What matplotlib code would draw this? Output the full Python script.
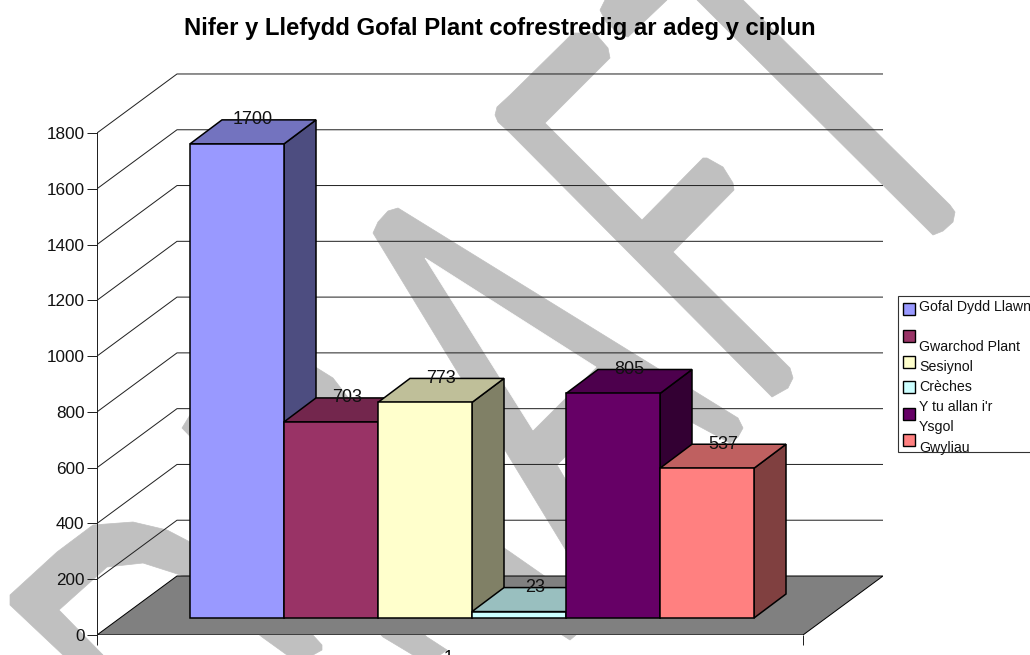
from matplotlib import pyplot as plt
from matplotlib.patches import Polygon, Rectangle

plt.rcParams['font.family'] = ['Liberation Sans', 'DejaVu Sans']

W, H = 1030, 655

# data
series_names = ["Gofal Dydd Llawn", "Gwarchod Plant", "Sesiynol", "Crèches", "Y tu allan i'r Ysgol", "Gwyliau"]
series_values = [1700, 703, 773, 23, 805, 537]
bar_colors = ['#9999FF', '#993366', '#FFFFCC', '#CCFFFF', '#660066', '#FF8080']
y_ticks = [0, 200, 400, 600, 800, 1000, 1200, 1400, 1600, 1800]
category = "1"
title = "Nifer y Llefydd Gofal Plant cofrestredig ar adeg y ciplun"

# legend rows (wrapped the way the original wraps them)
legend_rows = ["Gofal Dydd Llawn", "Gwarchod Plant", "Sesiynol", "Crèches", "Y tu allan i'r", "Ysgol", "Gwyliau"]
legend_text_y = [307, 347, 367, 387, 407, 427, 448]
legend_swatch_y = [309, 336, 362, 387, 414, 440]

# fake 3d set up, in data units of the main axes
PX_X = 94.0  # pixels for one bar width
PX_Y = 0.2789  # pixels for one value unit
WALL_DX = 80 / PX_X
WALL_DY = 59 / PX_Y
BAR_DX = 32 / PX_X
BAR_DY = 24 / PX_Y
BAR_START = 93 / PX_X
BAR_BASE = 17 / PX_Y
FLOOR_W = 706 / PX_X

# background watermark, outlines in picture pixels
watermark = [
    # D
    [(63, 655), (10, 605), (10, 595), (57, 552), (93, 525), (133, 522), (167, 530), (190, 542), (240, 575),
     (290, 610), (322, 645), (322, 650), (313, 655), (287, 655), (262, 637), (190, 578), (143, 563), (107, 567),
     (59, 610), (103, 655)],
    # R
    [(182, 428), (190, 415), (250, 365), (290, 355), (317, 368), (333, 378), (350, 400), (360, 430), (330, 420),
     (290, 400), (260, 410), (225, 440), (427, 637), (447, 650), (440, 655), (413, 655), (383, 637)],
    [(470, 525), (510, 552), (543, 575), (600, 615), (570, 640), (445, 560)],
    # A
    [(373, 233), (378, 222), (388, 211), (398, 208), (738, 418), (743, 428), (738, 437), (730, 443), (632, 390),
     (557, 465), (567, 482), (620, 570), (590, 590)],
    # F
    [(573, 33), (595, 33), (608, 48), (610, 58), (545, 123), (642, 220), (703, 158), (707, 158), (723, 167),
     (733, 183), (734, 190), (673, 252), (790, 368), (793, 378), (788, 388), (772, 397), (510, 133), (498, 122),
     (495, 115), (497, 107), (510, 95)],
    # second F
    [(697, 0), (743, 0), (950, 205), (955, 212), (953, 222), (943, 231), (933, 235)],
    [(605, 0), (667, 0), (628, 37), (618, 33), (606, 22), (600, 10)],
]
a_hole = [(425, 258), (596, 367), (533, 430)]


def shade(color, f):
    r, g, b = plt.matplotlib.colors.to_rgb(color)
    return (r * f, g * f, b * f)


fig = plt.figure(figsize=(W / 100, H / 100), dpi=100, facecolor='white')

bg = fig.add_axes([0, 0, 1, 1], zorder=-1)
bg.set_xlim(0, W)
bg.set_ylim(H, 0)
bg.axis('off')
for pts in watermark:
    bg.add_patch(Polygon(pts, closed=True, facecolor='#C0C0C0', edgecolor='#C0C0C0', lw=0.5))
bg.add_patch(Polygon(a_hole, closed=True, facecolor='white', edgecolor='white', lw=0.5))

# main axes, left edge is the front wall edge, 0 sits on the front of the floor
ax = fig.add_axes([97 / W, 1 - 635 / H, 786 / W, 562 / H])
ax.patch.set_visible(False)
ax.set_xlim(0, 786 / PX_X)
ax.set_ylim(0, 562 / PX_Y)
for s in ['top', 'right', 'bottom']:
    ax.spines[s].set_visible(False)
ax.spines['left'].set_bounds(0, y_ticks[-1])
ax.spines['left'].set_linewidth(0.72)
ax.spines['left'].set_color('#222222')

ax.set_yticks(y_ticks)
ax.tick_params(axis='y', length=7, width=0.72, color='#222222', labelsize=12.3, labelcolor='#111111', pad=2)
ax.set_xticks([0, FLOOR_W])
ax.set_xticklabels(['', ''])
ax.tick_params(axis='x', length=7.5, width=0.72, color='#222222')
ax.set_xticks([FLOOR_W / 2 - 2 / PX_X], minor=True)
ax.set_xticklabels([category], minor=True)
ax.tick_params(axis='x', which='minor', length=0, labelsize=12.3, pad=11)

# walls
for v in y_ticks[1:]:
    ax.plot([0, WALL_DX, FLOOR_W + WALL_DX], [v, v + WALL_DY, v + WALL_DY], color='#222222', lw=0.72, zorder=1)

# floor
ax.add_patch(Polygon([(0, 0), (FLOOR_W, 0), (FLOOR_W + WALL_DX, WALL_DY), (WALL_DX, WALL_DY)], closed=True,
                     facecolor='#808080', edgecolor='black', lw=0.72, zorder=2))

# bars, left to right so the next one hides the side of the last
for i, v in enumerate(series_values):
    x0 = BAR_START + i
    x1 = x0 + 1
    y0 = BAR_BASE
    y1 = y0 + v
    c = bar_colors[i]
    z = 3 + i
    ax.add_patch(Polygon([(x1, y0), (x1 + BAR_DX, y0 + BAR_DY), (x1 + BAR_DX, y1 + BAR_DY), (x1, y1)], closed=True,
                         facecolor=shade(c, 0.5), edgecolor='black', lw=1.1, zorder=z))
    ax.add_patch(Polygon([(x0, y1), (x1, y1), (x1 + BAR_DX, y1 + BAR_DY), (x0 + BAR_DX, y1 + BAR_DY)], closed=True,
                         facecolor=shade(c, 0.75), edgecolor='black', lw=1.1, zorder=z))
    ax.add_patch(Rectangle((x0, y0), 1, v, facecolor=c, edgecolor='black', lw=1.1, zorder=z))

for i, v in enumerate(series_values):
    ax.text(BAR_START + i + 0.5 + BAR_DX / 2, BAR_BASE + v + BAR_DY, str(v), ha='center', va='center',
            fontsize=13, color='#111111', zorder=20)

fig.text(500 / W, 1 - 29 / H, title, ha='center', va='center', fontsize=17.2, fontweight='bold')

# legend, done by hand since the last row is cut by the box
box = Rectangle((898, 296), 140, 156, facecolor='white', edgecolor='#333333', lw=0.8, zorder=5)
bg.add_patch(box)
for c, y in zip(bar_colors, legend_swatch_y):
    bg.add_patch(Rectangle((903, y - 6), 12, 12, facecolor=c, edgecolor='black', lw=1.0, zorder=6))
for row, y in zip(legend_rows, legend_text_y):
    t = bg.text(919, y, row, ha='left', va='center', fontsize=10.2, color='#111111', zorder=6)
    t.set_clip_path(box)

fig.savefig('out.png', dpi=100)
